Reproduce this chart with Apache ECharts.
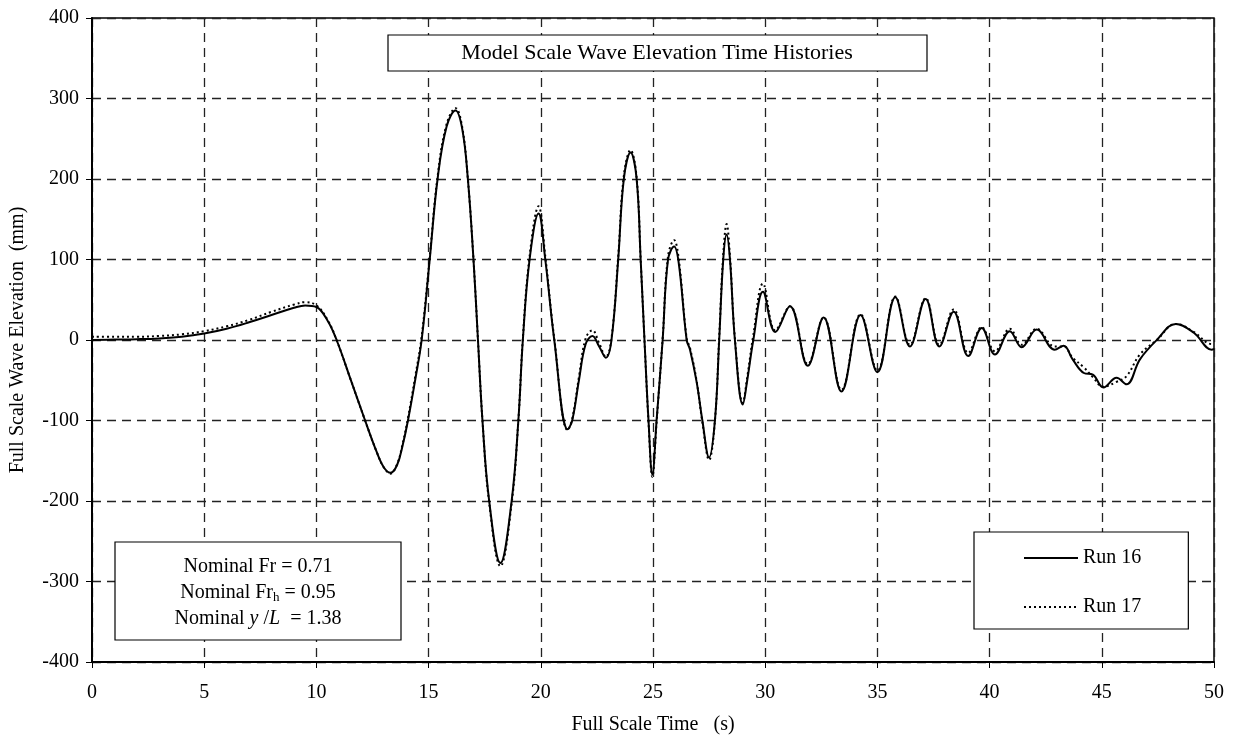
<!DOCTYPE html>
<html>
<head>
<meta charset="utf-8">
<script src="https://cdn.jsdelivr.net/npm/echarts@6/dist/echarts.min.js"></script>
<style>
  html, body { margin: 0; padding: 0; background: #fff; }
  #chart { width: 1235px; height: 735px; }
</style>
</head>
<body>
<div id="chart"></div>
<script>
// full scale time (s), shared by both runs
const time = [0, 1, 2, 3, 4, 5, 6, 7, 8, 9, 9.5, 10, 10.5, 10.9, 11.5, 12.17, 12.7, 13.0, 13.3, 13.6,
  13.85, 14.08, 14.4, 14.69, 15.05, 15.4, 15.8, 16.2, 16.5, 16.75, 17.0, 17.2, 17.4, 17.7, 18.2, 18.7,
  19.0, 19.2, 19.5, 19.9, 20.2, 20.6, 21.2, 21.4, 21.7, 22.0, 22.3, 22.6, 22.9, 23.15, 23.45, 23.7,
  24.0, 24.27, 24.45, 24.62, 24.8, 24.97, 25.16, 25.43, 25.67, 25.94, 26.15, 26.5, 26.65, 26.95, 27.2,
  27.5, 27.76, 27.95, 28.13, 28.28, 28.43, 28.65, 29.0, 29.2, 29.47, 29.9, 30.45, 31.1, 31.9, 32.6,
  33.4, 34.25, 35.0, 35.8, 36.45, 37.15, 37.76, 38.4, 39.05, 39.65, 40.24, 40.9, 41.43, 42.1, 42.9,
  43.3, 43.7, 44.2, 44.6, 45.07, 45.66, 46.1, 46.7, 47.45, 48.3, 49.1, 49.9, 50];

// wave elevation (mm)
const run16 = [0, 0.5, 1, 2, 4, 8, 14, 22, 31, 40, 43, 41, 24, 0, -47, -100, -140, -158, -165, -155,
  -130, -100, -50, 0, 100, 200, 265, 285, 262, 200, 100, 0, -100, -200, -277, -200,
  -100, 0, 100, 157, 100, 0, -111, -100, -50, -5, 5, -8, -22, 0, 100, 200,
  233, 200, 100, 0, -100, -167, -100, 0, 100, 116, 95, 0, -12, -53, -100,
  -146, -100, 0, 100, 131, 100, 0, -80, -50, 0, 60, 10, 42, -32, 28,
  -64, 31, -40, 53, -8, 51, -8, 35, -20, 15, -18, 11, -9, 13, -12,
  -7, -24, -41, -43, -59, -47, -55, -24, 0, 20, 9, -12, -11];

const run17 = [4, 4, 4, 5, 7, 11, 17, 25, 35, 44, 47, 43, 25, 0, -47, -100, -140, -158, -166, -154,
  -128, -97, -46, 4, 103, 203, 268, 288, 264, 200, 100, 0, -100, -202, -281, -203,
  -100, 2, 104, 166, 104, 2, -112, -98, -46, 2, 12, -4, -21, 2, 104, 204,
  236, 202, 100, 0, -102, -170, -102, 2, 104, 124, 100, 2, -10, -52, -102,
  -149, -100, 4, 106, 144, 104, 2, -78, -46, 6, 70, 12, 42, -30, 28,
  -62, 32, -38, 54, -6, 52, -6, 38, -16, 16, -14, 14, -6, 14, -8,
  -8, -22, -34, -46, -58, -52, -45, -18, 0, 20, 10, -5, -4];

const timeTicks = [0, 5, 10, 15, 20, 25, 30, 35, 40, 45, 50];
const elevTicks = [-400, -300, -200, -100, 0, 100, 200, 300, 400];

const pairs = (xs, ys) => xs.map((x, i) => [x, ys[i]]);
const serif = 'Liberation Serif';

const chart = echarts.init(document.getElementById('chart'));

chart.setOption({
  animation: false,
  backgroundColor: '#fff',
  textStyle: { fontFamily: serif, color: '#000' },
  grid: {
    left: 92, right: 21, top: 18, bottom: 73,
    outerBoundsMode: 'none', containLabel: false,
    show: true, borderColor: '#000', borderWidth: 1.5, backgroundColor: 'transparent'
  },
  xAxis: {
    type: 'value',
    min: timeTicks[0], max: timeTicks[timeTicks.length - 1], interval: 5,
    name: 'Full Scale Time   (s)',
    nameLocation: 'middle', nameGap: 53,
    nameTextStyle: { fontFamily: serif, fontSize: 20, color: '#000' },
    axisLine: { onZero: false, lineStyle: { color: '#000', width: 2 } },
    axisTick: { show: true, length: 6, lineStyle: { color: '#000' } },
    axisLabel: { fontFamily: serif, fontSize: 20, color: '#000', margin: 21 },
    splitLine: { show: true, lineStyle: { color: '#222', width: 1.3, type: [9, 6] } }
  },
  yAxis: {
    type: 'value',
    min: elevTicks[0], max: elevTicks[elevTicks.length - 1], interval: 100,
    name: 'Full Scale Wave Elevation  (mm)',
    nameLocation: 'middle', nameGap: 64,
    nameTextStyle: { fontFamily: serif, fontSize: 20, color: '#000' },
    axisLine: { show: true, lineStyle: { color: '#000', width: 2 } },
    axisTick: { show: true, length: 6, lineStyle: { color: '#000' } },
    axisLabel: { fontFamily: serif, fontSize: 20, color: '#000', margin: 13 },
    splitLine: { show: true, lineStyle: { color: '#222', width: 1.3, type: [9, 6] } }
  },
  legend: {
    left: 974, top: 532,
    orient: 'vertical',
    padding: [16, 47, 12, 49],
    itemWidth: 54, itemHeight: 16, itemGap: 29,
    backgroundColor: '#fff', borderColor: '#000', borderWidth: 1.2,
    itemStyle: { opacity: 0 },
    textStyle: { fontFamily: serif, fontSize: 20, color: '#000' },
    data: ['Run 16', 'Run 17'],
    z: 10
  },
  graphic: [
    { type: 'rect', z: 100, shape: { x: 388, y: 35, width: 539, height: 36 },
      style: { fill: '#fff', stroke: '#000', lineWidth: 1.2 } },
    { type: 'text', z: 101, x: 657, y: 53,
      style: { text: 'Model Scale Wave Elevation Time Histories', font: '22px "Liberation Serif"',
               fill: '#000', align: 'center', verticalAlign: 'middle' } },
    { type: 'rect', z: 100, shape: { x: 115, y: 542, width: 286, height: 98 },
      style: { fill: '#fff', stroke: '#000', lineWidth: 1.2 } },
    { type: 'text', z: 101, x: 258, y: 593,
      style: {
        text: 'Nominal Fr = 0.71\nNominal Fr{s|h} = 0.95\nNominal {i|y} /{i|L}  = 1.38',
        font: '20px "Liberation Serif"', fill: '#000',
        align: 'center', verticalAlign: 'middle', lineHeight: 26,
        rich: {
          s: { fontSize: 13, fontFamily: serif, padding: [10, 0, 0, 0], lineHeight: 26 },
          i: { fontSize: 20, fontFamily: serif, fontStyle: 'italic', lineHeight: 26 }
        }
      } }
  ],
  series: [
    {
      name: 'Run 16', type: 'line',
      data: pairs(time, run16),
      smooth: 0.4, symbol: 'none',
      lineStyle: { color: '#000', width: 2 },
      itemStyle: { color: '#000' },
      z: 3
    },
    {
      name: 'Run 17', type: 'line',
      data: pairs(time, run17),
      smooth: 0.4, symbol: 'none',
      lineStyle: { color: '#000', width: 2, type: [2, 3] },
      itemStyle: { color: '#000' },
      z: 2
    }
  ]
});
</script>
</body>
</html>
